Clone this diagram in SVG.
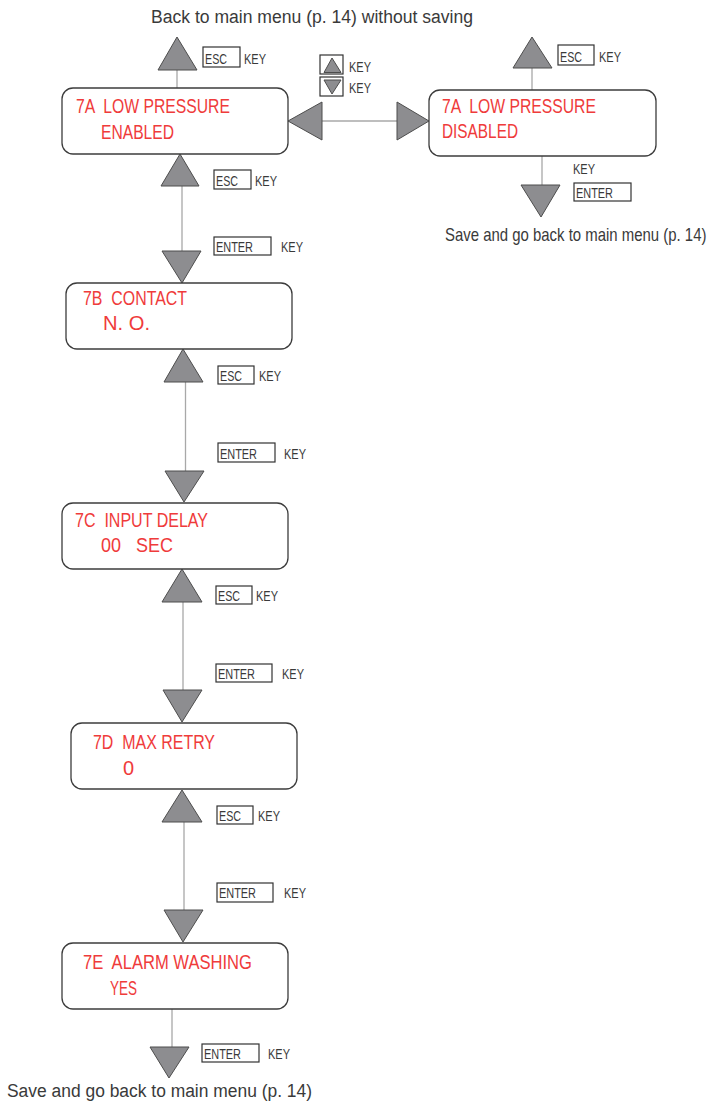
<svg xmlns="http://www.w3.org/2000/svg" width="717" height="1113" viewBox="0 0 717 1113">
<style>
.bg{fill:#fff}
.box{fill:#fff;stroke:#3c3c3c;stroke-width:1.3}
.tri{fill:#8d8d90;stroke:#4d4d4d;stroke-width:1}
.kb{fill:#fff;stroke:#333;stroke-width:1.2}
.ln{stroke:#a8a8a8;stroke-width:1.3;fill:none}
.red{font-family:"Liberation Sans",Arial,sans-serif;font-size:20px;fill:#ef3b3b;white-space:pre}
.k{font-family:"Liberation Sans",Arial,sans-serif;font-size:15px;fill:#3a3a3a}
.cap{font-family:"Liberation Sans",Arial,sans-serif;font-size:18px;fill:#3a3a3a}
</style>
<rect class="bg" x="0" y="0" width="717" height="1113"/>

<g id="connectors">
  <line class="ln" x1="177" y1="70" x2="177" y2="88"/>
  <line class="ln" x1="322" y1="121" x2="397" y2="121"/>
  <line class="ln" x1="532" y1="68" x2="532" y2="90"/>
  <line class="ln" x1="542" y1="156" x2="542" y2="185"/>
  <line class="ln" x1="182" y1="186" x2="182" y2="251"/>
  <line class="ln" x1="185.5" y1="382" x2="185.5" y2="471"/>
  <line class="ln" x1="183" y1="602" x2="183" y2="690"/>
  <line class="ln" x1="184" y1="822" x2="184" y2="910"/>
  <line class="ln" x1="172" y1="1009" x2="172" y2="1047"/>

  <polygon class="tri" points="177,37 158,70 197,70"/>
  <polygon class="tri" points="288,121 322,102 322,140"/>
  <polygon class="tri" points="429,121 397,102 397,140"/>
  <polygon class="tri" points="532,37 513,68 552,68"/>
  <polygon class="tri" points="521,185 560,185 541,217"/>
  <polygon class="tri" points="180,154 161,186 199,186"/>
  <polygon class="tri" points="162,251 201,251 182,283"/>
  <polygon class="tri" points="183,349 164,382 203,382"/>
  <polygon class="tri" points="165,471 204,471 184,502"/>
  <polygon class="tri" points="182,569 162,602 202,602"/>
  <polygon class="tri" points="163,690 202,690 182,722"/>
  <polygon class="tri" points="182,790 162,822 202,822"/>
  <polygon class="tri" points="164,910 203,910 183,942"/>
  <polygon class="tri" points="150,1047 189,1047 169,1078"/>
</g>

<g id="legend">
  <rect class="kb" x="320" y="55" width="23" height="19"/>
  <polygon class="tri" points="332,58 324,72.5 341,72.5"/>
  <rect class="kb" x="320" y="77" width="23" height="19"/>
  <polygon class="tri" points="324,80 341,80 332,94"/>
  <text class="k" x="349" y="72" textLength="22" lengthAdjust="spacingAndGlyphs">KEY</text>
  <text class="k" x="349" y="93" textLength="22" lengthAdjust="spacingAndGlyphs">KEY</text>
</g>

<g id="keys">
  <rect class="kb" x="203" y="47" width="37" height="20"/>
  <text class="k" x="205" y="64" textLength="22" lengthAdjust="spacingAndGlyphs">ESC</text>
  <text class="k" x="244" y="64" textLength="22" lengthAdjust="spacingAndGlyphs">KEY</text>

  <rect class="kb" x="558" y="45" width="36" height="20"/>
  <text class="k" x="560" y="62" textLength="22" lengthAdjust="spacingAndGlyphs">ESC</text>
  <text class="k" x="599" y="62" textLength="22" lengthAdjust="spacingAndGlyphs">KEY</text>

  <text class="k" x="573" y="174" textLength="22" lengthAdjust="spacingAndGlyphs">KEY</text>
  <rect class="kb" x="574" y="183" width="57" height="18"/>
  <text class="k" x="576" y="198" textLength="37" lengthAdjust="spacingAndGlyphs">ENTER</text>

  <rect class="kb" x="214" y="170" width="37" height="19"/>
  <text class="k" x="216" y="186" textLength="22" lengthAdjust="spacingAndGlyphs">ESC</text>
  <text class="k" x="255" y="186" textLength="22" lengthAdjust="spacingAndGlyphs">KEY</text>
  <rect class="kb" x="214" y="237" width="57" height="18"/>
  <text class="k" x="216" y="252" textLength="37" lengthAdjust="spacingAndGlyphs">ENTER</text>
  <text class="k" x="281" y="252" textLength="22" lengthAdjust="spacingAndGlyphs">KEY</text>

  <rect class="kb" x="218" y="366" width="36" height="18"/>
  <text class="k" x="220" y="381" textLength="22" lengthAdjust="spacingAndGlyphs">ESC</text>
  <text class="k" x="259" y="381" textLength="22" lengthAdjust="spacingAndGlyphs">KEY</text>
  <rect class="kb" x="218" y="443" width="57" height="19"/>
  <text class="k" x="220" y="459" textLength="37" lengthAdjust="spacingAndGlyphs">ENTER</text>
  <text class="k" x="284" y="459" textLength="22" lengthAdjust="spacingAndGlyphs">KEY</text>

  <rect class="kb" x="216" y="586" width="36" height="18"/>
  <text class="k" x="218" y="601" textLength="22" lengthAdjust="spacingAndGlyphs">ESC</text>
  <text class="k" x="256" y="601" textLength="22" lengthAdjust="spacingAndGlyphs">KEY</text>
  <rect class="kb" x="216" y="664" width="56" height="18"/>
  <text class="k" x="218" y="679" textLength="37" lengthAdjust="spacingAndGlyphs">ENTER</text>
  <text class="k" x="282" y="679" textLength="22" lengthAdjust="spacingAndGlyphs">KEY</text>

  <rect class="kb" x="217" y="806" width="36" height="18"/>
  <text class="k" x="219" y="821" textLength="22" lengthAdjust="spacingAndGlyphs">ESC</text>
  <text class="k" x="258" y="821" textLength="22" lengthAdjust="spacingAndGlyphs">KEY</text>
  <rect class="kb" x="217" y="883" width="56" height="19"/>
  <text class="k" x="219" y="898" textLength="37" lengthAdjust="spacingAndGlyphs">ENTER</text>
  <text class="k" x="284" y="898" textLength="22" lengthAdjust="spacingAndGlyphs">KEY</text>

  <rect class="kb" x="202" y="1044" width="57" height="18"/>
  <text class="k" x="204" y="1059" textLength="37" lengthAdjust="spacingAndGlyphs">ENTER</text>
  <text class="k" x="268" y="1059" textLength="22" lengthAdjust="spacingAndGlyphs">KEY</text>
</g>

<g id="node-7A-enabled">
  <rect class="box" x="62" y="88" width="226" height="66" rx="11"/>
  <text class="red" x="76" y="113" textLength="154" lengthAdjust="spacingAndGlyphs">7A  LOW PRESSURE</text>
  <text class="red" x="101" y="139" textLength="73" lengthAdjust="spacingAndGlyphs">ENABLED</text>
</g>
<g id="node-7A-disabled">
  <rect class="box" x="429" y="90" width="227" height="66" rx="11"/>
  <text class="red" x="442" y="113" textLength="154" lengthAdjust="spacingAndGlyphs">7A  LOW PRESSURE</text>
  <text class="red" x="442" y="138" textLength="76" lengthAdjust="spacingAndGlyphs">DISABLED</text>
</g>
<g id="node-7B">
  <rect class="box" x="66" y="283" width="226" height="66" rx="11"/>
  <text class="red" x="83" y="305" textLength="104" lengthAdjust="spacingAndGlyphs">7B  CONTACT</text>
  <text class="red" x="103" y="330" textLength="47" lengthAdjust="spacingAndGlyphs">N. O.</text>
</g>
<g id="node-7C">
  <rect class="box" x="62" y="503" width="226" height="66" rx="11"/>
  <text class="red" x="75" y="527" textLength="133" lengthAdjust="spacingAndGlyphs">7C  INPUT DELAY</text>
  <text class="red" x="101" y="552" textLength="72" lengthAdjust="spacingAndGlyphs">00   SEC</text>
</g>
<g id="node-7D">
  <rect class="box" x="71" y="723" width="226" height="66" rx="11"/>
  <text class="red" x="93" y="749" textLength="122" lengthAdjust="spacingAndGlyphs">7D  MAX RETRY</text>
  <text class="red" x="123" y="775">0</text>
</g>
<g id="node-7E">
  <rect class="box" x="62" y="943" width="226" height="66" rx="11"/>
  <text class="red" x="83" y="969" textLength="169" lengthAdjust="spacingAndGlyphs">7E  ALARM WASHING</text>
  <text class="red" x="110" y="995" textLength="27" lengthAdjust="spacingAndGlyphs">YES</text>
</g>

<g id="captions">
  <text class="cap" x="151" y="23" textLength="322" lengthAdjust="spacingAndGlyphs">Back to main menu (p. 14) without saving</text>
  <text class="cap" x="0" y="0" transform="translate(445,241) scale(0.83,1)">Save and go back to main menu (p. 14)</text>
  <text class="cap" x="7" y="1097" textLength="305" lengthAdjust="spacingAndGlyphs">Save and go back to main menu (p. 14)</text>
</g>
</svg>
